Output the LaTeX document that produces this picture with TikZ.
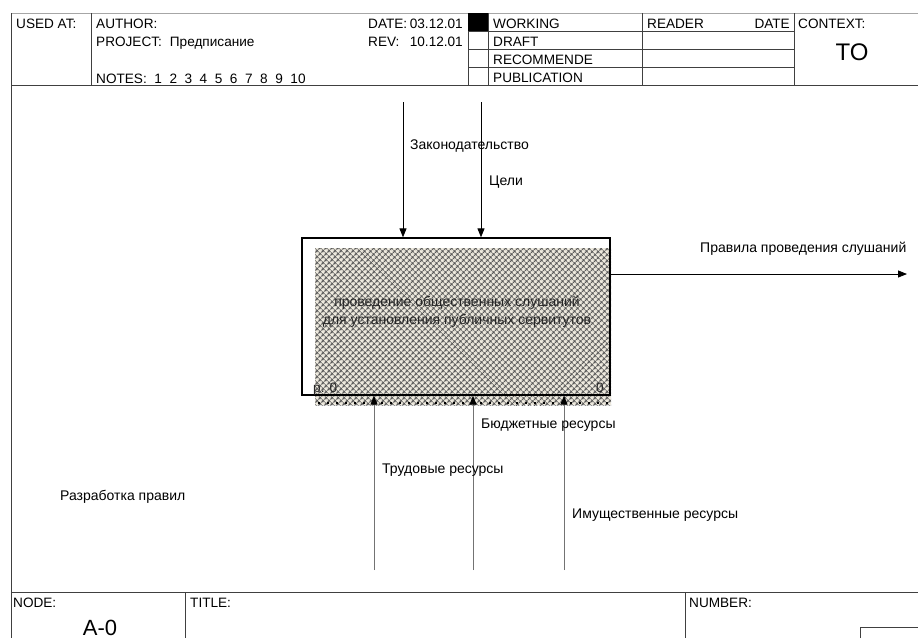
\documentclass[tikz,border=0pt]{standalone}
\usepackage{fontspec}
\setmainfont{Liberation Sans}
\usetikzlibrary{arrows.meta,patterns.meta}
\definecolor{cream}{RGB}{240,236,224}
\begin{document}
\begin{tikzpicture}[x=1pt,y=-1pt,
  frame/.style={draw=black!75,line width=0.9pt},
  hdr/.style={anchor=base west,inner sep=0pt,font=\fontsize{13.6}{15}\selectfont},
  lbl/.style={anchor=base west,inner sep=0pt,font=\fontsize{14}{16}\selectfont},
  intip/.style={-{Triangle[length=9pt,width=7pt]},line width=0.9pt},
  grayarrow/.style={-{Triangle[length=9pt,width=7pt,color=black]},draw=black!55,line width=0.9pt},
  fnbox/.style={draw=black,line width=1.3pt,minimum width=308pt,minimum height=157pt,inner sep=0pt}]
\useasboundingbox (0,0) rectangle (918,638);
% ---- header frame ----
\draw[frame,draw=black!35] (11,13) -- (918,13);
\draw[frame] (11,13) -- (11,638);
\draw[frame] (11,85) -- (918,85);
\draw[frame] (91,13) -- (91,85);
\draw[frame] (468,13) -- (468,85);
\draw[frame] (488,13) -- (488,85);
\draw[frame] (642,13) -- (642,85);
\draw[frame] (794,13) -- (794,85);
\draw[frame] (468,31) -- (794,31);
\draw[frame] (468,49) -- (794,49);
\draw[frame] (468,67) -- (794,67);
\fill[black] (468,13) rectangle (488,31);
\node[hdr] (usedat) at (16,28) {USED AT:};
\node[hdr] (author) at (96,28) {AUTHOR:};
\node[hdr] (project) at (96,46) {PROJECT:\hspace{8pt}Предписание};
\node[hdr] (notes) at (96,83) {NOTES:\ \ 1\ \ 2\ \ 3\ \ 4\ \ 5\ \ 6\ \ 7\ \ 8\ \ 9\ \ 10};
\node[hdr] (date) at (368,28) {DATE:};
\node[hdr,anchor=base east] (dateval) at (463,28) {03.12.01};
\node[hdr] (rev) at (368,46) {REV:};
\node[hdr,anchor=base east] (revval) at (463,46) {10.12.01};
\node[hdr] (working) at (493,28) {WORKING};
\node[hdr] (draft) at (493,46) {DRAFT};
\node[hdr] (recom) at (493,64) {RECOMMENDE};
\node[hdr] (publ) at (493,82.5) {PUBLICATION};
\node[hdr] (reader) at (647,28) {READER};
\node[hdr,anchor=base east] (rdate) at (790,28) {DATE};
\node[hdr] (context) at (798,28) {CONTEXT:};
\node[anchor=base,inner sep=0pt,font=\fontsize{24}{26}\selectfont] (to) at (852,60) {TO};
% ---- footer ----
\draw[frame] (11,592) -- (918,592);
\draw[frame] (185,592) -- (185,638);
\draw[frame] (685,592) -- (685,638);
\draw[frame] (860,638) -- (860,627) -- (918,627);
\node[hdr] (node) at (13,607) {NODE:};
\node[hdr] (title) at (190,607) {TITLE:};
\node[hdr] (number) at (689,607) {NUMBER:};
\node[anchor=base,inner sep=0pt,font=\fontsize{22}{24}\selectfont] (a0) at (100,635) {A-0};
% ---- function box ----
\fill[cream] (315,248) rectangle (611,405);
\fill[pattern={Hatch[angle=45,distance=4pt,line width=1.1pt]},pattern color=black!65] (315,248) rectangle (611,405);
\draw[line width=2.4pt,dash pattern=on 1.8pt off 7.2pt] (318,403) -- (611,403);
\node[fnbox] (fn) at (456,316.5) {};
\node[align=center,inner sep=0pt,text=black!85,font=\fontsize{14}{18}\selectfont] (fntext) at (457,312) {проведение общественных слушаний\\для установления публичных сервитутов};
\node[anchor=base west,inner sep=0pt,text=black!85,font=\fontsize{13.6}{15}\selectfont] (pno) at (313,392) {р. 0};
\node[anchor=base east,inner sep=0pt,text=black!85,font=\fontsize{13.6}{15}\selectfont] (nno) at (604,392) {0};
% ---- arrows ----
\coordinate (zakstart) at (403,102);
\coordinate (celstart) at (481,102);
\coordinate (outend) at (907,274);
\coordinate (trudstart) at (374,570);
\coordinate (budstart) at (473,570);
\coordinate (imstart) at (564,570);
\draw[intip] (zakstart) -- (zakstart |- fn.north);
\draw[intip] (celstart) -- (celstart |- fn.north);
\draw[intip] (fn.east |- outend) -- (outend);
\draw[grayarrow] (trudstart) -- (trudstart |- fn.south);
\draw[grayarrow] (budstart) -- (budstart |- fn.south);
\draw[grayarrow] (imstart) -- (imstart |- fn.south);
\node[lbl] (zak) at (410,149) {Законодательство};
\node[lbl] (cel) at (489,185) {Цели};
\node[lbl] (out) at (700,252.5) {Правила проведения слушаний};
\node[lbl] (bud) at (481,428) {Бюджетные ресурсы};
\node[lbl] (trud) at (382,473) {Трудовые ресурсы};
\node[lbl] (im) at (572,518) {Имущественные ресурсы};
\node[lbl] (razr) at (60,500) {Разработка правил};
\end{tikzpicture}
\end{document}
